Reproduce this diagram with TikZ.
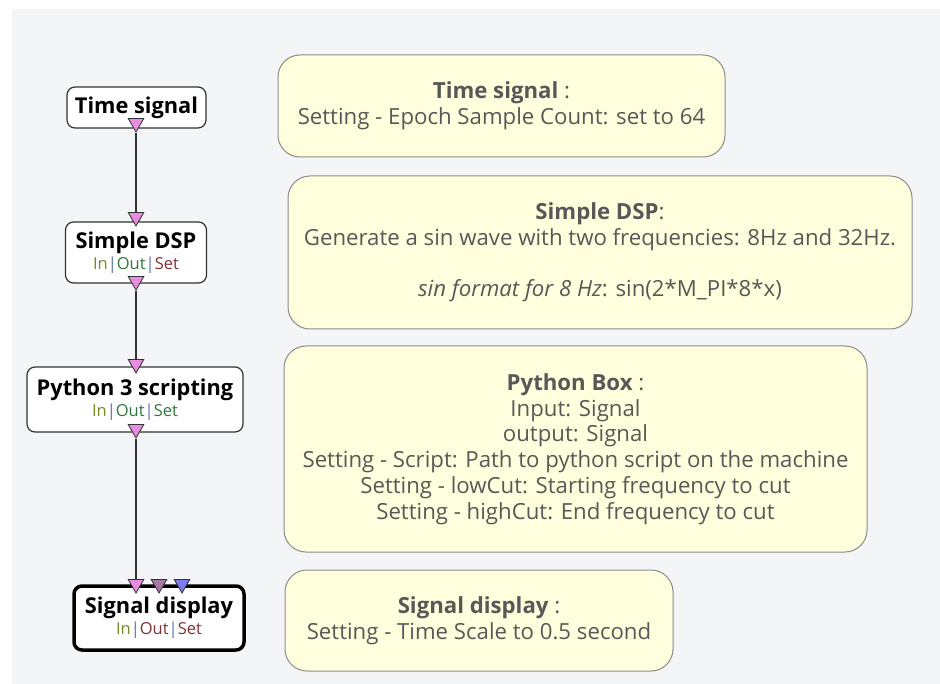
\documentclass[tikz,border=0pt]{standalone}
\usepackage{fontspec}
\setmainfont{Open Sans}
\usetikzlibrary{shapes.geometric}
\definecolor{bggray}{RGB}{244,245,247}
\definecolor{noteyellow}{RGB}{255,255,221}
\definecolor{noteborder}{RGB}{140,140,140}
\definecolor{notetext}{RGB}{88,88,88}
\definecolor{boxborder}{RGB}{50,50,50}
\definecolor{portpink}{RGB}{232,140,224}
\definecolor{portmauve}{RGB}{168,120,168}
\definecolor{portblue}{RGB}{124,124,240}
\definecolor{inolive}{RGB}{125,135,40}
\definecolor{outgreen}{RGB}{50,120,60}
\definecolor{setbrown}{RGB}{125,50,55}
\definecolor{sepblue}{RGB}{90,110,170}
\newcommand{\iolabel}[2]{{\mdseries\fontsize{16.5}{18}\selectfont\textcolor{inolive}{In}\textcolor{sepblue}{|}\textcolor{#1}{Out}\textcolor{sepblue}{|}\textcolor{#2}{Set}}}
\tikzset{
	boxnode/.style={
		draw=boxborder,
		line width=1.2pt,
		fill=white,
		rounded corners=8pt,
		align=center,
		inner sep=0pt,
		font=\fontsize{21.8}{24}\selectfont\bfseries
	},
	comment/.style={
		draw=noteborder,
		line width=1pt,
		fill=noteyellow,
		rounded corners=22pt,
		align=center,
		inner sep=0pt,
		text=notetext,
		font=\fontsize{22.2}{25.7}\selectfont
	},
	port/.style={
		regular polygon,
		regular polygon sides=3,
		shape border rotate=180,
		draw=boxborder,
		line width=0.8pt,
		minimum size=18pt,
		inner sep=0pt
	},
	link/.style={
		draw=boxborder,
		line width=1.5pt
	}
}
\begin{document}
\begin{tikzpicture}[x=1pt,y=-1pt]
	\useasboundingbox (0,0) rectangle (940,684);
	\fill[white] (0,0) rectangle (940,684);
	\fill[bggray] (12,9) rectangle (940,684);
	
	% Comments
	\node[comment,minimum width=447pt,minimum height=102pt] (c1) at (501.5,106)
	{\textbf{Time signal} :\\Setting - Epoch Sample Count: set to 64};
	\node[comment,minimum width=624pt,minimum height=153pt] (c2) at (600,252.5)
	{\textbf{Simple DSP}:\\Generate a sin wave with two frequencies: 8Hz and 32Hz.\\[25.7pt]\textit{sin format for 8 Hz}: sin(2*M\_PI*8*x)};
	\node[comment,minimum width=583pt,minimum height=206pt] (c3) at (575.5,449)
	{\textbf{Python Box} :\\Input: Signal\\output: Signal\\Setting - Script: Path to python script on the machine\\Setting - lowCut: Starting frequency to cut\\Setting - highCut: End frequency to cut};
	\node[comment,minimum width=388pt,minimum height=101pt] (c4) at (479,620.5)
	{\textbf{Signal display} :\\Setting - Time Scale to 0.5 second};
	
	% Boxes
	\node[boxnode,minimum width=139pt,minimum height=41pt] (ts) at (136.5,107.5) {Time signal};
	\node[boxnode,minimum width=141pt,minimum height=61pt] (dsp) at (136,252.5)
	{Simple DSP\\[-3pt]\iolabel{outgreen}{setbrown}};
	\node[boxnode,minimum width=216pt,minimum height=65pt] (py) at (135,399.5)
	{Python 3 scripting\\[-3pt]\iolabel{outgreen}{outgreen}};
	\node[boxnode,line width=3.5pt,draw=black,minimum width=170pt,minimum height=64pt] (sd) at (159,618)
	{Signal display\\[-3pt]\iolabel{setbrown}{setbrown}};
	
	% Ports
	\node[port,fill=portpink] (ts-out) at (136,123) {};
	\node[port,fill=portpink] (dsp-in) at (136,217) {};
	\node[port,fill=portpink] (dsp-out) at (136,281) {};
	\node[port,fill=portpink] (py-in) at (136,364) {};
	\node[port,fill=portpink] (py-out) at (136,429) {};
	\node[port,fill=portpink] (sd-in1) at (136,584) {};
	\node[port,fill=portmauve] (sd-in2) at (159,584) {};
	\node[port,fill=portblue] (sd-in3) at (182,584) {};
	
	% Links
	\draw[link] (ts-out) -- (dsp-in);
	\draw[link] (dsp-out) -- (py-in);
	\draw[link] (py-out) -- (sd-in1);
	
\end{tikzpicture}
\end{document}
